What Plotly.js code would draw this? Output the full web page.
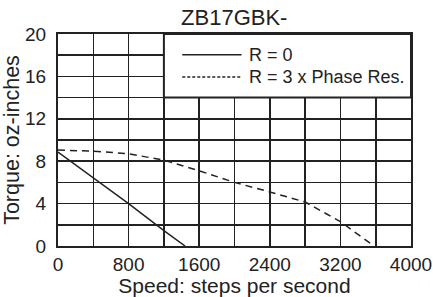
<!DOCTYPE html>
<html>
<head>
<meta charset="utf-8">
<script src="https://cdn.plot.ly/plotly-3.0.1.min.js"></script>
<style>html,body{margin:0;padding:0;background:#fff;}#chart{width:433px;height:297px;}</style>
</head>
<body>
<div id="chart"></div>
<script>
// Data
var speedR0 = [0, 400, 800, 1200, 1440];
var torqueR0 = [8.85, 6.4, 4.0, 1.45, 0];
var speedR3 = [0, 400, 800, 1200, 1600, 2000, 2400, 2800, 3200, 3580];
var torqueR3 = [9.05, 8.95, 8.7, 8.1, 7.1, 6.0, 5.1, 4.15, 2.3, 0];
var xTickVals = [0, 400, 800, 1200, 1600, 2000, 2400, 2800, 3200, 3600, 4000];
var xTickText = ['0', '', '800', '', '1600', '', '2400', '', '3200', '', '4000'];
var yTickVals = [0, 2, 4, 6, 8, 10, 12, 14, 16, 18, 20];
var yTickText = ['0', '', '4', '', '8', '', '12', '', '16', '', '20'];
var seriesNames = ['R = 0', 'R = 3 x Phase Res.'];
var chartTitle = 'ZB17GBK-';
var xTitle = 'Speed: steps per second';
var yTitle = 'Torque: oz-inches';

var sans = '"Liberation Sans", Arial, Helvetica, sans-serif';
var ink = '#222';

var traces = [
  {x: speedR0, y: torqueR0, name: seriesNames[0], mode: 'lines', line: {color: ink, width: 1.5}},
  {x: speedR3, y: torqueR3, name: seriesNames[1], mode: 'lines', line: {color: ink, width: 1.5, dash: '7px,5px'}}
];

var layout = {
  width: 433, height: 297,
  margin: {l: 58, r: 22, t: 34, b: 51},
  paper_bgcolor: '#fff', plot_bgcolor: '#fff',
  showlegend: false,
  title: {text: chartTitle, font: {family: sans, size: 22, color: ink}, x: 0.541, xanchor: 'center', y: 0.942, yanchor: 'middle'},
  xaxis: {
    range: [0, 4000], tickvals: xTickVals, ticktext: xTickText, ticks: '',
    showgrid: true, gridcolor: ink, gridwidth: 1.6, zeroline: false,
    showline: true, mirror: true, linecolor: ink, linewidth: 2,
    tickfont: {family: sans, size: 19, color: ink}, ticklabelstandoff: 0, ticklabeloverflow: 'allow',
    title: {text: xTitle, font: {family: sans, size: 21, color: ink}, standoff: 2},
    fixedrange: true, automargin: false
  },
  yaxis: {
    range: [0, 20], tickvals: yTickVals, ticktext: yTickText, ticks: '',
    showgrid: true, gridcolor: ink, gridwidth: 1.6, zeroline: false,
    showline: true, mirror: true, linecolor: ink, linewidth: 2,
    tickfont: {family: sans, size: 19, color: ink}, ticklabelstandoff: 6,
    title: {text: yTitle, font: {family: sans, size: 21.5, color: ink}, standoff: 2},
    fixedrange: true, automargin: false
  },
  shapes: [
    {type: 'rect', xref: 'x', yref: 'y', x0: 1200, x1: 4000, y0: 14, y1: 20, fillcolor: '#fff', line: {color: ink, width: 2}, layer: 'above'},
    {type: 'line', xref: 'paper', yref: 'paper', x0: 0.352, x1: 0.52, y0: 0.902, y1: 0.902, line: {color: ink, width: 1.5}},
    {type: 'line', xref: 'paper', yref: 'paper', x0: 0.352, x1: 0.52, y0: 0.797, y1: 0.797, line: {color: ink, width: 1.5, dash: '3px,2px'}}
  ],
  annotations: [
    {text: seriesNames[0], xref: 'paper', yref: 'paper', x: 0.536, y: 0.902, xanchor: 'left', yanchor: 'middle', showarrow: false, font: {family: sans, size: 18, color: ink}},
    {text: seriesNames[1], xref: 'paper', yref: 'paper', x: 0.536, y: 0.797, xanchor: 'left', yanchor: 'middle', showarrow: false, font: {family: sans, size: 18, color: ink}}
  ]
};

Plotly.newPlot('chart', traces, layout, {staticPlot: true, displayModeBar: false});
</script>
</body>
</html>
